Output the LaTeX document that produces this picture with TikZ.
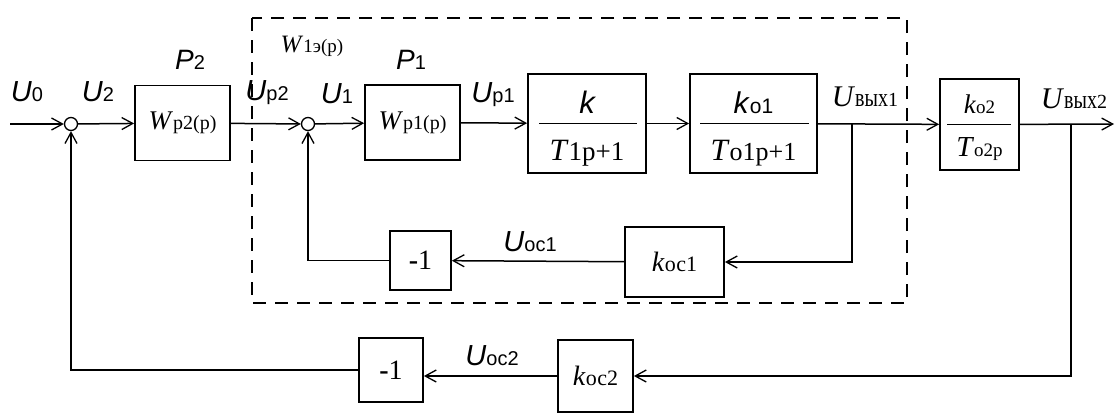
\documentclass[tikz,border=0pt]{standalone}
\usepackage{fontspec}
\usepackage{graphicx}
\setmainfont{Liberation Serif}
\setsansfont{Liberation Sans}
\usetikzlibrary{arrows.meta,calc}
\newcommand\fs[1]{\fontsize{#1}{#1}\selectfont}
% signal labels: sans U with small index, serif U/W with small index
\newcommand\sigU[1]{{\sffamily\fs{29}\textit{U}\fs{20}#1}}
\newcommand\serU[1]{{\fs{30}\textit{U}\fs{20}\scalebox{1}[1.3]{вых}#1}}
\newcommand\serW[1]{{\fs{27}\textit{W}\fs{20}#1}}
\begin{document}
\begin{tikzpicture}[x=1pt,y=-1pt,
  line width=1.5pt,
  block/.style={draw,line width=1.8pt,inner sep=0pt},
  sumj/.style={draw,circle,minimum size=13pt,inner sep=0pt,line width=1.3pt},
  sig/.style={-{Straight Barb[length=11pt,width=12pt,line width=1.3pt]}},
  frame/.style={draw,dash pattern=on 13pt off 9pt,line width=1.8pt},
  lab/.style={inner sep=0pt}]
\useasboundingbox (0,0) rectangle (1116,416);

% boundary of the inner loop W1э(p)
\draw[frame] (252,18) rectangle (907,303);

% forward path
\coordinate (in) at (10,124);
\node[sumj] (s1) at (71,124) {};
\node[block,minimum width=95pt,minimum height=75pt] (Wp2) at (182.5,123) {\serW{р2(р)}};
\node[sumj] (s2) at (308,124) {};
\node[block,minimum width=95pt,minimum height=75pt] (Wp1) at (412.5,122.5) {\serW{р1(р)}};
\node[block,minimum width=118pt,minimum height=99pt] (Gk) at (587,123.5) {};
\node[block,minimum width=127pt,minimum height=99pt] (Go1) at (753.5,123.5) {};
\node[block,minimum width=79pt,minimum height=91pt] (Go2) at (979.5,124.5) {};
\coordinate (b1) at (852,124);
\coordinate (b2) at (1071,124);
\coordinate (out) at (1114,124);

% fractions inside the plant blocks
\node[lab] (Gkn) at ($(Gk.center)+(0,-21)$) {\sffamily\itshape\fs{31}k};
\node[lab] (Gkd) at ($(Gk.center)+(0,30)$) {\fs{31}\textit{T}\fs{27}1р+1};
\draw[line width=1.8pt] ([xshift=12pt]Gk.west) -- ([xshift=-10pt]Gk.east);
\node[lab] (Go1n) at ($(Go1.center)+(0,-21)$) {\sffamily\fs{30}\textit{k}\fs{21}о1};
\node[lab] (Go1d) at ($(Go1.center)+(0,30)$) {\fs{31}\textit{T}\fs{26}о1р+1};
\draw[line width=1.8pt] ([xshift=11pt]Go1.west) -- ([xshift=-9pt]Go1.east);
\node[lab] (Go2n) at ($(Go2.center)+(0,-20)$) {\fs{27}\textit{k}\fs{19}о2};
\node[lab] (Go2d) at ($(Go2.center)+(0,25)$) {\fs{29}\textit{T}\fs{19}о2р};
\draw[line width=1.8pt] ([xshift=8pt]Go2.west) -- ([xshift=-9pt]Go2.east);

% feedback blocks
\node[block,minimum width=99pt,minimum height=70pt] (K1) at (674.5,262) {\fs{28}\textit{k}\fs{22}ос1};
\node[block,minimum width=61pt,minimum height=59pt] (M1) at (420.5,260.5) {\fs{28}\textbf{-}1};
\node[block,minimum width=75pt,minimum height=72pt] (K2) at (595.5,376) {\fs{28}\textit{k}\fs{22}ос2};
\node[block,minimum width=64pt,minimum height=64pt] (M2) at (391,370) {\fs{28}\textbf{-}1};

% connectors
\draw[sig] (in) -- (s1);
\draw[sig] (s1) -- (Wp2);
\draw[sig] (Wp2) -- (s2);
\draw[sig] (s2) -- (Wp1);
\draw[sig] (Wp1) -- (Gk);
\draw[sig] (Gk) -- (Go1);
\draw[sig] (Go1) -- (Go2);
\draw[sig] (Go2) -- (out);
\draw[sig] (b1) |- (K1.east);
\draw[sig] (K1) -- (M1);
\draw[sig] (M1.west) -| (s2.south);
\draw[sig] (b2) |- (K2.east);
\draw[sig] (K2.west) -- (K2.west -| M2.east);
\draw[sig] (M2.west) -| (s1.south);

% labels
\node[lab] (lU0) at (27,92) {\sigU{0}};
\node[lab] (lU2) at (98,92) {\sigU{2}};
\node[lab] (lP2) at (190,60) {\sffamily\fs{28}\textit{P}\fs{20}2};
\node[lab] (lUp2) at (267,93) {\sigU{р2}};
\node[lab] (lW1) at (312,46) {\fs{25}\textit{W}\fs{19}1э(р)};
\node[lab] (lP1) at (411,60) {\sffamily\fs{28}\textit{P}\fs{20}1};
\node[lab] (lU1) at (337,94) {\sigU{1}};
\node[lab] (lUp1) at (493,95) {\sigU{р1}};
\node[lab] (lUv1) at (865,97) {\serU{1}};
\node[lab] (lUv2) at (1074,99) {\serU{2}};
\node[lab] (lUoc1) at (530,242) {\sigU{ос1}};
\node[lab] (lUoc2) at (492,356) {\sigU{ос2}};
\end{tikzpicture}
\end{document}
